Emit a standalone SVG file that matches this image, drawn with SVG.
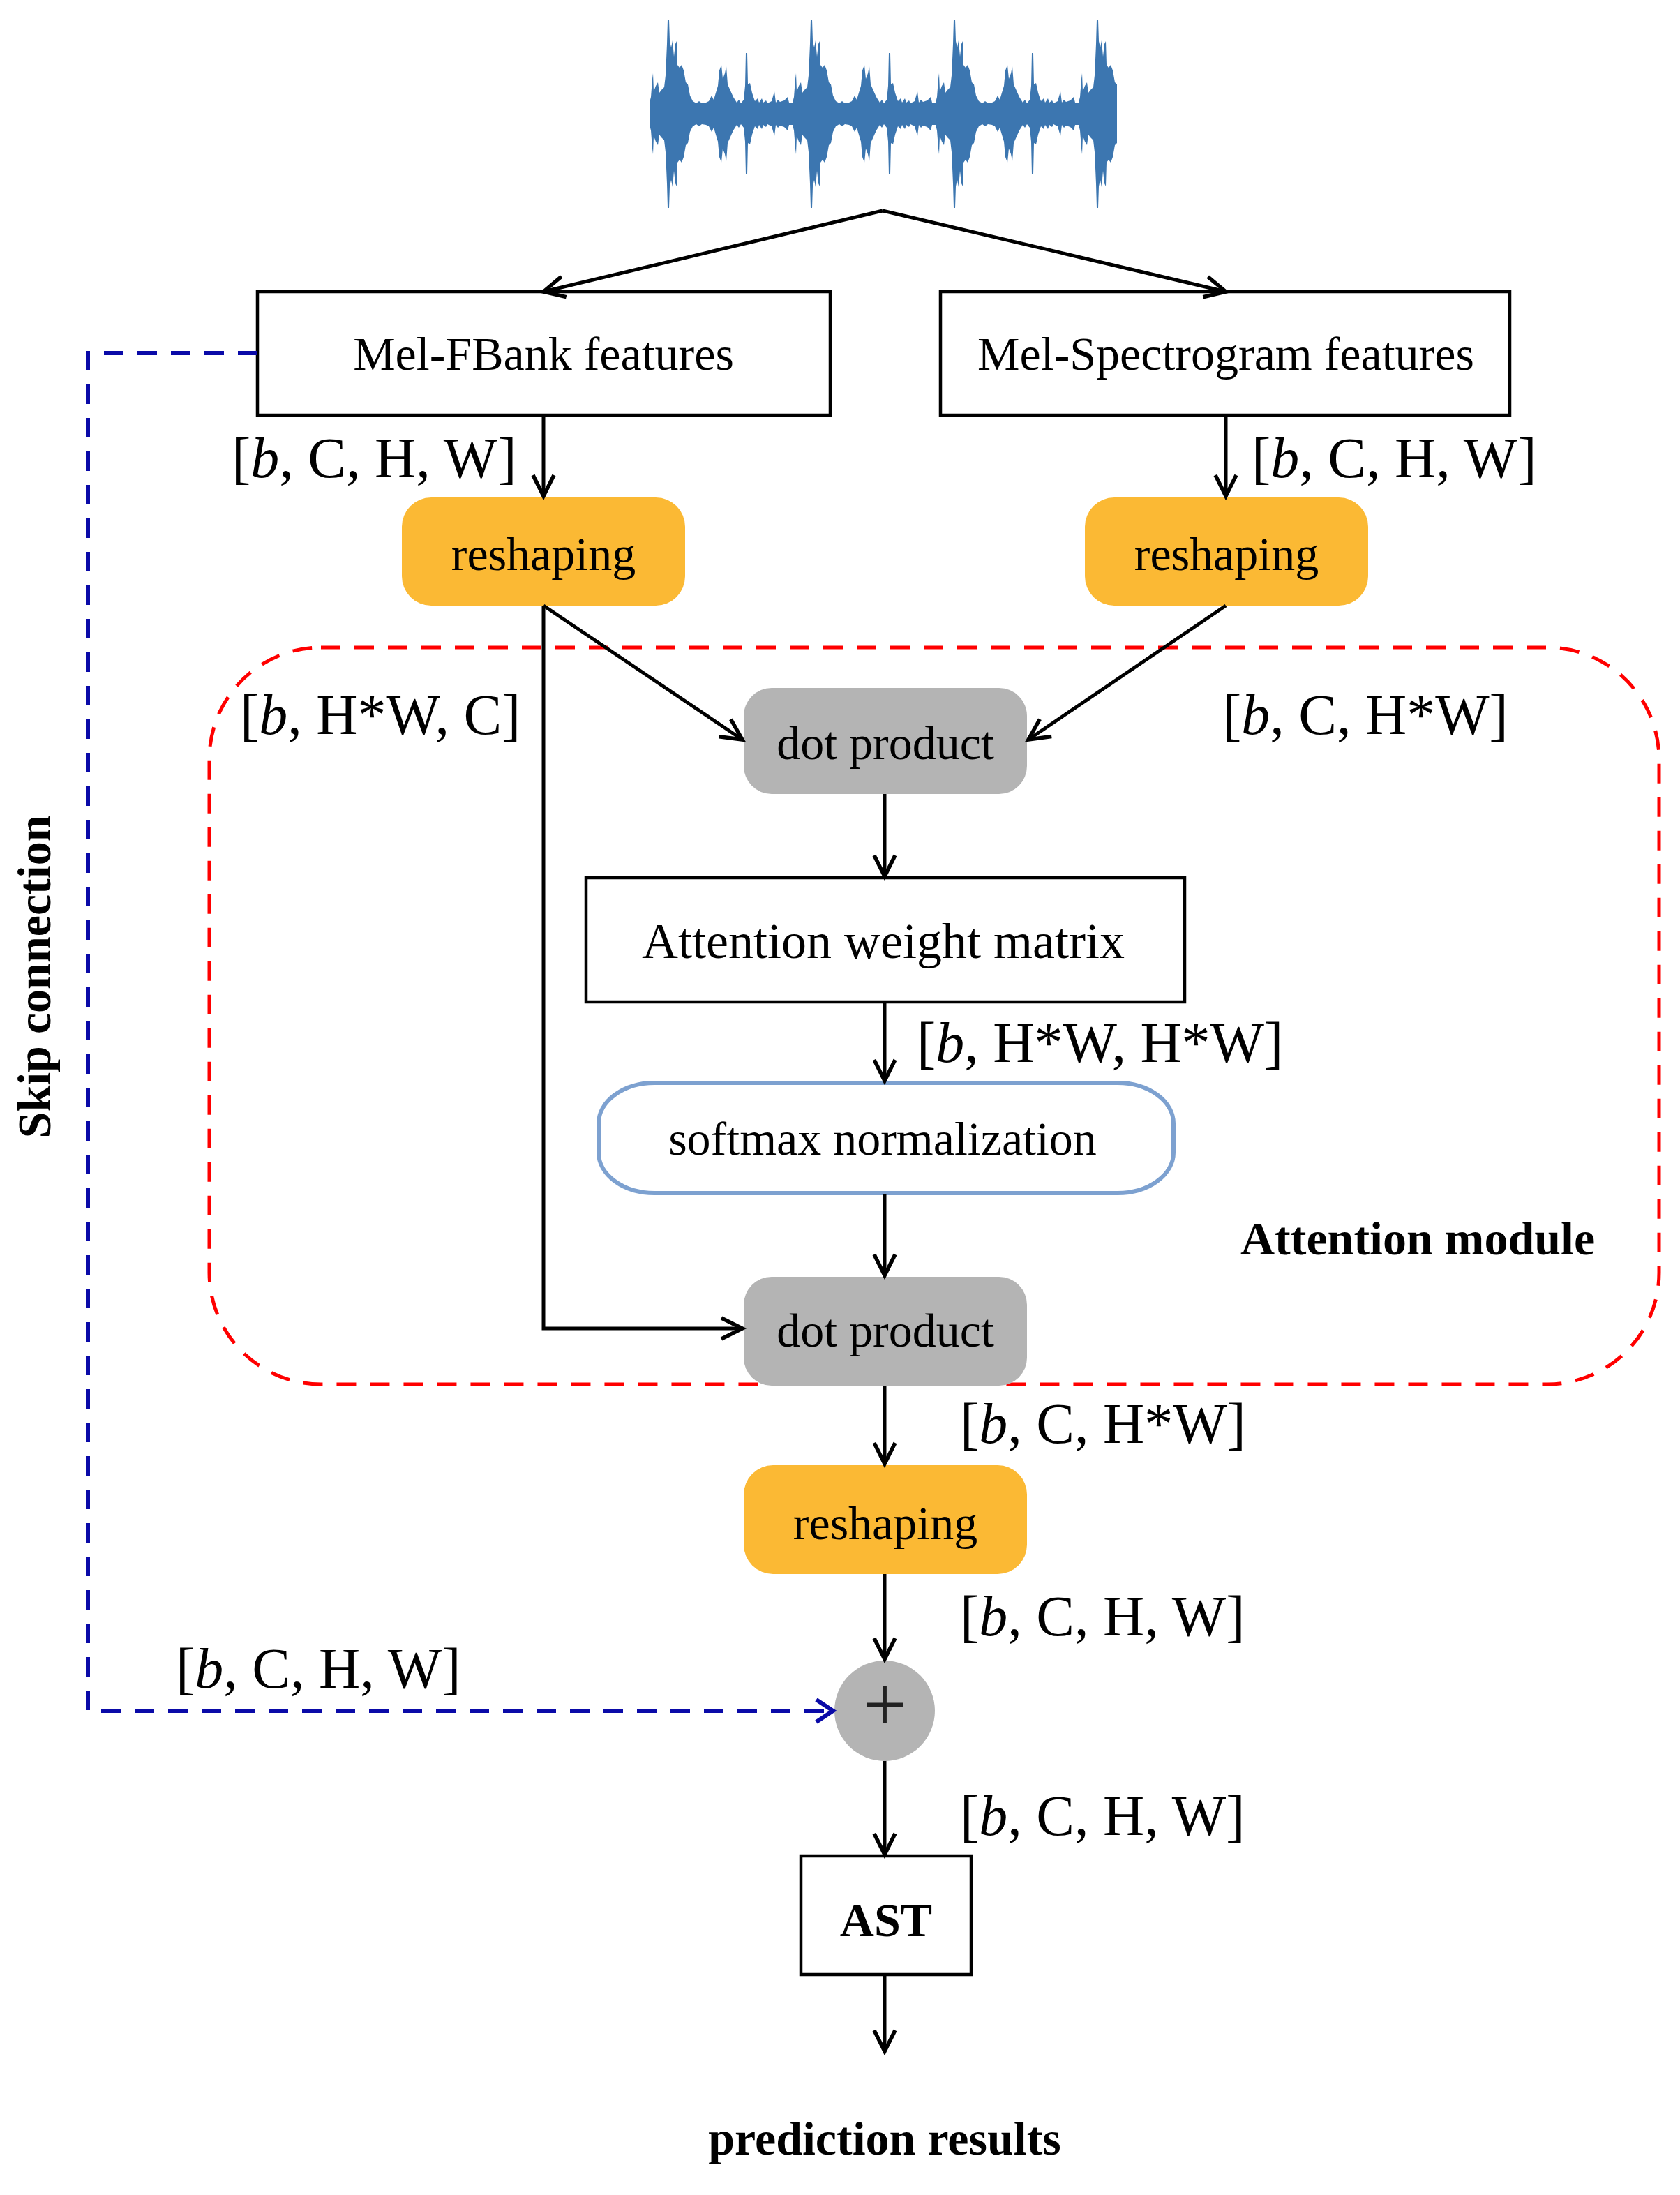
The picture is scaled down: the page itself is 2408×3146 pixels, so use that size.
<svg xmlns="http://www.w3.org/2000/svg" width="2408" height="3146" viewBox="0 0 2408 3146">
<style>
.box{fill:#fff;stroke:#000;stroke-width:4.5}
.orange{fill:#FBB934}
.gray{fill:#B4B4B4}
.t{font-family:"Liberation Serif","Times New Roman",serif;font-size:68px;text-anchor:middle;fill:#000}
.dim{font-family:"Liberation Serif","Times New Roman",serif;font-size:82px;fill:#000}
.b{font-weight:bold}
.conn{stroke:#000;stroke-width:5;fill:none;marker-end:url(#arr)}
.skip{stroke:#0A0AA8;stroke-width:6;fill:none;stroke-dasharray:28 20}
.wave{fill:#3C76B0}
</style>
<defs>
<marker id="arr" markerUnits="userSpaceOnUse" markerWidth="48" markerHeight="48" viewBox="-38 -24 48 48" refX="0" refY="0" orient="auto">
<path d="M-30,-15 L0,0 L-30,15" fill="none" stroke="#000" stroke-width="5.5"/>
</marker>
<marker id="arrb" markerUnits="userSpaceOnUse" markerWidth="44" markerHeight="44" viewBox="-34 -22 44 44" refX="0" refY="0" orient="auto">
<path d="M-24,-16 L0,0 L-24,16" fill="none" stroke="#0A0AA8" stroke-width="6"/>
</marker>
<path id="period" d="M-27,-16 L-25,-24 L-23,-50 L-22,-58 L-21,-32 L-18,-40 L-15,-45 L-13,-30 L-10,-34 L-6,-38 L-4,-55 L-2,-100 L-1,-135 L1,-135 L2,-104 L4,-95 L6,-105 L8,-82 L10,-100 L12,-104 L13,-70 L16,-66 L19,-70 L22,-62 L25,-45 L28,-42 L31,-26 L35,-18 L40,-15 L44,-18 L48,-15 L54,-16 L58,-18 L62,-26 L65,-20 L68,-30 L71,-40 L73,-62 L76,-70 L78,-50 L81,-58 L83,-68 L85,-42 L89,-33 L93,-24 L98,-16 L101,-20 L104,-15 L108,-20 L110,-40 L111,-87 L113,-87 L114,-42 L117,-44 L120,-30 L124,-18 L128,-22 L130,-16 L134,-22 L136,-16 L140,-19 L142,-15 L148,-18 L152,-32 L154,-16 L157,-20 L160,-17 L166,-19 L171,-24 L173,-16 L178,-16 L178,16 L173,16 L171,24 L166,19 L160,17 L157,20 L154,16 L152,32 L148,18 L142,15 L140,19 L136,16 L134,22 L130,16 L128,22 L124,18 L120,30 L117,44 L114,42 L113,87 L111,87 L110,40 L108,20 L104,15 L101,20 L98,16 L93,24 L89,33 L85,42 L83,68 L81,58 L78,50 L76,70 L73,62 L71,40 L68,30 L65,20 L62,26 L58,18 L54,16 L48,15 L44,18 L40,15 L35,18 L31,26 L28,42 L25,45 L22,62 L19,70 L16,66 L13,70 L12,104 L10,100 L8,82 L6,105 L4,95 L2,104 L1,135 L-1,135 L-2,100 L-4,55 L-6,38 L-10,34 L-13,30 L-15,45 L-18,40 L-21,32 L-22,58 L-23,50 L-25,24 L-27,16 Z"/>
<clipPath id="lastclip"><rect x="-30" y="-150" width="58" height="300"/></clipPath>
</defs>

<g id="waveform" class="wave">
<use href="#period" transform="translate(958,163)"/>
<use href="#period" transform="translate(1163,163)"/>
<use href="#period" transform="translate(1368,163)"/>
<g transform="translate(1573,163)"><use href="#period" clip-path="url(#lastclip)"/></g>
</g>

<g id="attention-module">
<rect x="300" y="928" width="2078" height="1056" rx="160" ry="160" fill="none" stroke="#FF0000" stroke-width="5" stroke-dasharray="28 20"/>
<text class="t b" x="1778" y="1798" style="text-anchor:start">Attention module</text>
</g>

<g id="mel-fbank">
<rect class="box" x="369" y="418" width="821" height="177"/>
<text class="t" x="779" y="530">Mel-FBank features</text>
</g>
<g id="mel-spectrogram">
<rect class="box" x="1348" y="418" width="816" height="177"/>
<text class="t" x="1757" y="530">Mel-Spectrogram features</text>
</g>
<g id="reshaping-left">
<rect class="orange" x="576" y="713" width="406" height="155" rx="42"/>
<text class="t" x="779" y="817">reshaping</text>
</g>
<g id="reshaping-right">
<rect class="orange" x="1555" y="713" width="406" height="155" rx="42"/>
<text class="t" x="1758" y="817">reshaping</text>
</g>
<g id="dot-product-1">
<rect class="gray" x="1066" y="986" width="406" height="152" rx="40"/>
<text class="t" x="1269" y="1088">dot product</text>
</g>
<g id="attention-weight-matrix">
<rect class="box" x="840" y="1258" width="858" height="178"/>
<text class="t" x="1266" y="1373" style="font-size:72px">Attention weight matrix</text>
</g>
<g id="softmax">
<rect x="858" y="1552" width="824" height="158" rx="80" ry="58" fill="#fff" stroke="#7DA1D0" stroke-width="6"/>
<text class="t" x="1265" y="1655">softmax normalization</text>
</g>
<g id="dot-product-2">
<rect class="gray" x="1066" y="1830" width="406" height="156" rx="40"/>
<text class="t" x="1269" y="1930">dot product</text>
</g>
<g id="reshaping-3">
<rect class="orange" x="1066" y="2100" width="406" height="156" rx="42"/>
<text class="t" x="1269" y="2206">reshaping</text>
</g>
<g id="add">
<circle cx="1268" cy="2452" r="72" class="gray"/>
<text x="1268" y="2481" style="font-family:'Liberation Serif','Times New Roman',serif;font-size:112px;text-anchor:middle;fill:#222">+</text>
</g>
<g id="ast">
<rect class="box" x="1148" y="2660" width="244" height="170"/>
<text class="t b" x="1270" y="2775">AST</text>
</g>
<g id="prediction">
<text class="t b" x="1268" y="3088">prediction results</text>
</g>
<g id="skip-label">
<text class="t b" transform="translate(72,1400) rotate(-90)">Skip connection</text>
</g>

<g id="dims">
<text class="dim" x="332" y="684">[<tspan font-style="italic">b</tspan>, C, H, W]</text>
<text class="dim" x="1794" y="684">[<tspan font-style="italic">b</tspan>, C, H, W]</text>
<text class="dim" x="344" y="1052">[<tspan font-style="italic">b</tspan>, H*W, C]</text>
<text class="dim" x="1752" y="1052">[<tspan font-style="italic">b</tspan>, C, H*W]</text>
<text class="dim" x="1314" y="1522">[<tspan font-style="italic">b</tspan>, H*W, H*W]</text>
<text class="dim" x="1376" y="2068">[<tspan font-style="italic">b</tspan>, C, H*W]</text>
<text class="dim" x="1376" y="2344">[<tspan font-style="italic">b</tspan>, C, H, W]</text>
<text class="dim" x="252" y="2419">[<tspan font-style="italic">b</tspan>, C, H, W]</text>
<text class="dim" x="1376" y="2630">[<tspan font-style="italic">b</tspan>, C, H, W]</text>
</g>

<g id="connectors">
<path class="conn" d="M1265,302 L779,418"/>
<path class="conn" d="M1265,302 L1757,418"/>
<path class="conn" d="M779,595 V711"/>
<path class="conn" d="M1757,595 V711"/>
<path class="conn" d="M779,868 L1064,1060"/>
<path class="conn" d="M1757,868 L1474,1060"/>
<path class="conn" d="M779,868 V1904 H1064"/>
<path class="conn" d="M1268,1138 V1256"/>
<path class="conn" d="M1268,1436 V1549"/>
<path class="conn" d="M1268,1712 V1828"/>
<path class="conn" d="M1268,1986 V2098"/>
<path class="conn" d="M1268,2256 V2378"/>
<path class="conn" d="M1268,2524 V2658"/>
<path class="conn" d="M1268,2830 V2940"/>
<path class="skip" d="M369,506 H126 V2452 H1194" marker-end="url(#arrb)"/>
</g>
</svg>
